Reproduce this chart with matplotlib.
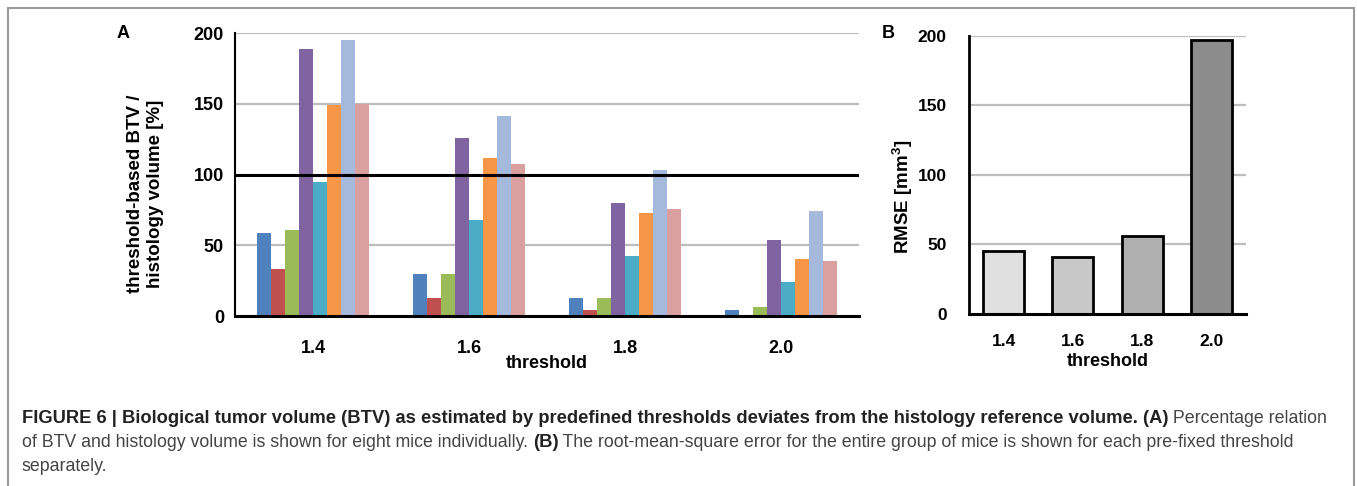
import numpy as np
import matplotlib
matplotlib.use("Agg")
import matplotlib.pyplot as plt
from matplotlib.patches import Rectangle

# data
thresholds = ["1.4", "1.6", "1.8", "2.0"]
mouse1 = [59, 30, 13, 4]
mouse2 = [33, 12.5, 4, 0]
mouse3 = [61, 30, 13, 6.5]
mouse4 = [189, 126, 80, 53.5]
mouse5 = [95, 68, 42.5, 24]
mouse6 = [149, 112, 73, 40.5]
mouse7 = [195, 141.5, 103.5, 74]
mouse8 = [150, 107.5, 75.5, 39]
rmse = [45, 41, 56, 197]

mice = [mouse1, mouse2, mouse3, mouse4, mouse5, mouse6, mouse7, mouse8]
mouse_colors = ["#4f81bd", "#c0504d", "#9bbb59", "#8064a2",
                "#4bacc6", "#f79646", "#a5b9dd", "#daa0a0"]
rmse_colors = ["#e0e0e0", "#c8c8c8", "#b0b0b0", "#8c8c8c"]

plt.rcParams["font.family"] = ["Liberation Sans", "DejaVu Sans"]

W, H = 1357, 486
fig = plt.figure(figsize=(W / 100, H / 100), dpi=100)


def box(l, t, r, b):
    return [l / W, 1 - b / H, (r - l) / W, (b - t) / H]


# ---- panel A
ax = fig.add_axes(box(235, 33.3, 859, 316))
x = np.arange(len(thresholds))
bw = 0.0905
for i, vals in enumerate(mice):
    ax.bar(x + (i - 3.5) * bw, vals, bw, color=mouse_colors[i], zorder=3)
ax.set_xlim(-0.5, 3.5)
ax.set_ylim(0, 200)
ax.set_yticks([0, 50, 100, 150, 200])
for v in [50, 150, 200]:
    ax.axhline(v, color="#bdbdbd", lw=1.6, zorder=1)
ax.axhline(100, color="black", lw=2.2, zorder=4)
ax.axhline(0, color="black", lw=2.2, zorder=4, clip_on=False)
for s in ["top", "right", "bottom"]:
    ax.spines[s].set_visible(False)
ax.spines["left"].set_linewidth(1.5)
ax.set_xticks(x)
ax.set_xticklabels(thresholds)
ax.tick_params(length=0)
ax.tick_params(axis="x", pad=17)
ax.tick_params(axis="y", pad=8)
for lab in ax.get_xticklabels() + ax.get_yticklabels():
    lab.set_fontweight("bold")
    lab.set_fontsize(13)
ax.set_xlabel("threshold", fontweight="bold", fontsize=13, labelpad=-1)
ax.set_ylabel("threshold-based BTV /\nhistology volume [%]", fontweight="bold",
              fontsize=13.5, linespacing=1.25, va="center")
ax.yaxis.set_label_coords(-0.143, 0.432)
fig.text(123 / W, 1 - 33 / H, "A", fontsize=13, fontweight="bold", ha="center", va="center")

# ---- panel B
bx = fig.add_axes(box(969, 35.7, 1246, 314))
bx.bar(x, rmse, 0.59, color=rmse_colors, edgecolor="black", linewidth=2, zorder=3)
bx.set_xlim(-0.5, 3.5)
bx.set_ylim(0, 200)
bx.set_yticks([0, 50, 100, 150, 200])
for v in [50, 100, 150, 200]:
    bx.axhline(v, color="#bdbdbd", lw=1.6, zorder=1)
bx.axhline(0, color="black", lw=2.2, zorder=4, clip_on=False)
for s in ["top", "right", "bottom"]:
    bx.spines[s].set_visible(False)
bx.spines["left"].set_linewidth(2)
bx.set_xticks(x)
bx.set_xticklabels(thresholds)
bx.tick_params(length=0)
bx.tick_params(axis="x", pad=14.5)
bx.tick_params(axis="y", pad=16)
for lab in bx.get_xticklabels() + bx.get_yticklabels():
    lab.set_fontweight("bold")
    lab.set_fontsize(12.5)
bx.set_xlabel("threshold", fontweight="bold", fontsize=13, labelpad=3)
bx.set_ylabel("RMSE [mm$^\\mathregular{3}$]", fontweight="bold", fontsize=13.5, va="center")
bx.yaxis.set_label_coords(-0.238, 0.42)
fig.text(888 / W, 1 - 33 / H, "B", fontsize=13, fontweight="bold", ha="center", va="center")

# ---- border and caption
fig.patches.append(Rectangle((8 / W, -0.1), (1354 - 8) / W, 1.1 - 8 / H,
                             transform=fig.transFigure, fill=False,
                             edgecolor="#9a9a9a", lw=1.5))

caption = [
    [("FIGURE 6 | Biological tumor volume (BTV) as estimated by predefined thresholds "
      "deviates from the histology reference volume. (A)", "bold"),
     (" Percentage relation", "normal")],
    [("of BTV and histology volume is shown for eight mice individually. ", "normal"),
     ("(B)", "bold"),
     (" The root-mean-square error for the entire group of mice is shown for each "
      "pre-fixed threshold", "normal")],
    [("separately.", "normal")],
]
renderer = fig.canvas.get_renderer()
y0 = 423
for row in caption:
    xp = 22
    for txt, weight in row:
        t = fig.text(xp / W, 1 - y0 / H, txt,
                     fontsize=13.25 if weight == "bold" else 12.75,
                     fontweight=weight,
                     color="#222222" if weight == "bold" else "#444444",
                     ha="left", va="baseline")
        xp += t.get_window_extent(renderer).width
    y0 += 24

fig.savefig("out.png", dpi=100)
